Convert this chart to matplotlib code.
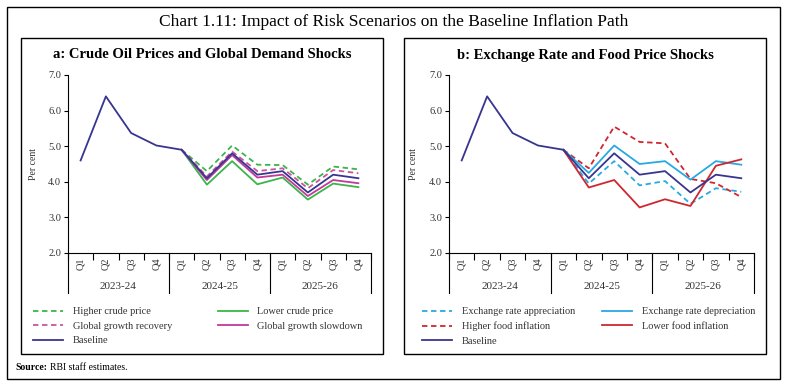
import matplotlib
matplotlib.use("Agg")
import matplotlib.pyplot as plt
from matplotlib.patches import Rectangle
import matplotlib.transforms as mtransforms

quarters = ["Q1", "Q2", "Q3", "Q4"] * 3
years = ["2023-24", "2024-25", "2025-26"]

baseline = [4.6, 6.4, 5.37, 5.02, 4.9, 4.1, 4.8, 4.2, 4.3, 3.7, 4.2, 4.1]

# scenario paths start at 2024-25 Q1 (index 4)
higher_crude = [4.9, 4.3, 5.02, 4.48, 4.47, 3.92, 4.43, 4.35]
lower_crude = [4.9, 3.92, 4.58, 3.93, 4.12, 3.5, 3.95, 3.85]
growth_recovery = [4.9, 4.15, 4.85, 4.3, 4.38, 3.82, 4.33, 4.24]
growth_slowdown = [4.9, 4.05, 4.75, 4.12, 4.2, 3.6, 4.05, 3.96]

er_appreciation = [4.9, 3.95, 4.58, 3.9, 4.02, 3.38, 3.82, 3.72]
er_depreciation = [4.9, 4.25, 5.02, 4.5, 4.58, 4.06, 4.58, 4.48]
higher_food = [4.9, 4.38, 5.55, 5.12, 5.08, 4.08, 3.96, 3.57]
lower_food = [4.9, 3.84, 4.05, 3.28, 3.51, 3.32, 4.45, 4.63]

plt.rcParams['font.family'] = ['Liberation Serif', 'DejaVu Serif']

NAVY = "#37358f"
GREEN = "#3ab54a"
MAGENTA = "#c0399c"
PINK = "#c8559e"
LBLUE = "#29a9e1"
RED = "#cf2730"

W, H = 788, 387
fig = plt.figure(figsize=(W / 100, H / 100), dpi=100)

def fx(px):
    return px / W

def fy(py):
    return 1 - py / H

# outer and panel boxes
fig.patches.append(Rectangle((fx(7), fy(379)), fx(780) - fx(7), fy(7) - fy(379),
                             transform=fig.transFigure, fill=False, lw=1.0, ec="black"))
for x0, x1 in [(21, 383), (404, 766)]:
    fig.patches.append(Rectangle((fx(x0), fy(354)), fx(x1) - fx(x0), fy(38) - fy(354),
                                 transform=fig.transFigure, fill=False, lw=1.0, ec="black"))

fig.text(fx(394), fy(22), "Chart 1.11: Impact of Risk Scenarios on the Baseline Inflation Path",
         ha="center", va="center", fontsize=12.5)
fig.text(fx(202), fy(55), "a: Crude Oil Prices and Global Demand Shocks",
         ha="center", va="center", fontsize=10.5, fontweight="bold")
fig.text(fx(585), fy(55), "b: Exchange Rate and Food Price Shocks",
         ha="center", va="center", fontsize=10.5, fontweight="bold")
fig.text(fx(15), fy(367), "Source:", ha="left", va="center", fontsize=7, fontweight="bold")
fig.text(fx(50), fy(367), "RBI staff estimates.", ha="left", va="center", fontsize=7)

x_all = list(range(12))
x_scen = list(range(4, 12))


def setup(ax, ylabel_x):
    ax.set_xlim(-0.5, 11.5)
    ax.set_ylim(2.0, 7.0)
    ax.set_yticks([2, 3, 4, 5, 6, 7])
    ax.set_yticklabels([f"{v:.1f}" for v in [2, 3, 4, 5, 6, 7]], fontsize=7.5, color="#333333")
    ax.tick_params(axis="y", length=3, width=0.8, pad=2)
    for s in ["top", "right"]:
        ax.spines[s].set_visible(False)
    ax.spines["left"].set_linewidth(0.8)
    ax.spines["bottom"].set_linewidth(0.8)
    ax.set_xticks(x_all)
    ax.set_xticklabels(quarters, rotation=90, fontsize=7.5, color="#333333")
    ax.tick_params(axis="x", length=0, pad=3)
    ax.set_xticks([i + 0.5 for i in range(-1, 12)], minor=True)
    ax.tick_params(axis="x", which="minor", length=5, width=0.8)
    trans = mtransforms.blended_transform_factory(ax.transData, ax.transAxes)
    for xb in [-0.5, 3.5, 7.5, 11.5]:
        ax.plot([xb, xb], [0, -0.225], transform=trans, color="black", lw=0.8, clip_on=False)
    for i, yr in enumerate(years):
        ax.text(1.5 + 4 * i, -0.19, yr, transform=trans, ha="center", va="center",
                fontsize=8, color="#333333")
    ax.set_ylabel("Per cent", fontsize=7, color="#333333")
    ax.yaxis.set_label_coords(ylabel_x, 0.5)


ax_h = fy(75) - fy(253)
ax1 = fig.add_axes([fx(68), fy(253), fx(371) - fx(68), ax_h])
ax2 = fig.add_axes([fx(449), fy(253), fx(754) - fx(449), ax_h])

lw = 1.3
dash = (0, (3, 2))

h1, = ax1.plot(x_scen, higher_crude, color=GREEN, lw=lw, ls=dash, label="Higher crude price")
h2, = ax1.plot(x_scen, growth_recovery, color=PINK, lw=lw, ls=dash, label="Global growth recovery")
h4, = ax1.plot(x_scen, lower_crude, color=GREEN, lw=lw, label="Lower crude price")
h5, = ax1.plot(x_scen, growth_slowdown, color=MAGENTA, lw=lw, label="Global growth slowdown")
h3, = ax1.plot(x_all, baseline, color=NAVY, lw=lw, label="Baseline")
setup(ax1, -0.1)

g1, = ax2.plot(x_scen, er_appreciation, color=LBLUE, lw=lw, ls=dash, label="Exchange rate appreciation")
g2, = ax2.plot(x_scen, higher_food, color=RED, lw=lw, ls=dash, label="Higher food inflation")
g4, = ax2.plot(x_scen, er_depreciation, color=LBLUE, lw=lw, label="Exchange rate depreciation")
g5, = ax2.plot(x_scen, lower_food, color=RED, lw=lw, label="Lower food inflation")
g3, = ax2.plot(x_all, baseline, color=NAVY, lw=lw, label="Baseline")
setup(ax2, -0.1)

leg_kw = dict(ncol=2, frameon=False, fontsize=7.5, handlelength=2.9, handletextpad=0.9,
              labelspacing=0.5, borderaxespad=0, borderpad=0,
              labelcolor="#333333")
fig.legend([h1, h2, h3, h4, h5], [h.get_label() for h in [h1, h2, h3, h4, h5]],
           loc="upper left", bbox_to_anchor=(fx(33), fy(307)), columnspacing=4.4, **leg_kw)
fig.legend([g1, g2, g3, g4, g5], [g.get_label() for g in [g1, g2, g3, g4, g5]],
           loc="upper left", bbox_to_anchor=(fx(422), fy(307)), columnspacing=2.6, **leg_kw)

fig.savefig("out.png", dpi=100)
